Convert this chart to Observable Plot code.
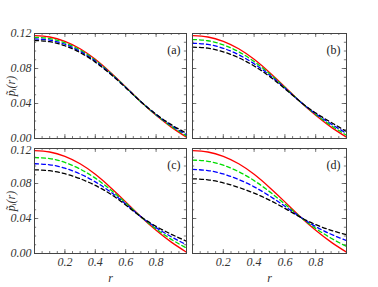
<!DOCTYPE html>
<html><head><meta charset="utf-8">
<script src="https://cdn.jsdelivr.net/npm/d3@7"></script>
<script src="https://cdn.jsdelivr.net/npm/@observablehq/plot@0.6"></script>
<style>
body{margin:0;background:#fff;}
#wrap{position:relative;width:378px;height:287px;}
#wrap svg{position:absolute;}
#wrap svg text{font-family:"Liberation Serif","DejaVu Serif",serif;}
</style></head><body><div id="wrap"></div>
<script>
const rValues = [0,0.1,0.2,0.3,0.4,0.5,0.6,0.7,0.8,0.9,1.0];
const redCurve = [.1175,.1160,.1110,.1025,.0905,.0755,.0590,.0420,.0265,.0130,.0015];
// panel (a)
const greenA = [.1157,.1142,.1093,.1011,.0894,.0749,.0587,.0420,.0269,.0139,.0030];
const blueA  = [.1138,.1124,.1077,.0996,.0884,.0742,.0584,.0420,.0274,.0149,.0045];
const blackA = [.1120,.1106,.1060,.0982,.0873,.0736,.0581,.0420,.0278,.0158,.0060];
// panel (b)
const greenB = [.1131,.1117,.1070,.0991,.0880,.0740,.0583,.0420,.0274,.0148,.0037];
const blueB  = [.1088,.1075,.1031,.0957,.0854,.0725,.0576,.0420,.0283,.0166,.0058];
const blackB = [.1044,.1032,.0991,.0923,.0829,.0710,.0569,.0420,.0292,.0184,.0080];
// panel (c)
const greenC = [.1095,.1085,.1041,.0965,.0861,.0729,.0578,.0420,.0281,.0162,.0062];
const blueC  = [.1026,.1014,.0975,.0909,.0819,.0704,.0566,.0420,.0296,.0191,.0100];
const blackC = [.0956,.0946,.0912,.0855,.0778,.0680,.0555,.0420,.0310,.0220,.0140];
// panel (d)
const greenD = [.1068,.1054,.1009,.0935,.0833,.0707,.0565,.0418,.0287,.0175,.0081];
const blueD  = [.0961,.0948,.0909,.0845,.0762,.0658,.0540,.0417,.0308,.0220,.0148];
const blackD = [.0854,.0842,.0808,.0755,.0690,.0610,.0515,.0415,.0330,.0265,.0214];

const xTickLabels = [0.2,0.4,0.6,0.8];
const xMinorTicks = d3.range(1,20).map(i=>i*0.05);
const yTickLabels = [0,0.04,0.08,0.12];
const yMinorTicks = d3.range(1,12).map(i=>i*0.01);
const seriesNames = ["red","green","blue","black"];
const seriesColors = ["#ff0000","#00dd00","#0000ff","#000000"];
const seriesDash = [null,"4,3","4,3","4,3"];

const panels = [
  {label:"(a)", curves:[redCurve,greenA,blueA,blackA], left:0, top:0, col:0, row:0},
  {label:"(b)", curves:[redCurve,greenB,blueB,blackB], left:190, top:0, col:1, row:0},
  {label:"(c)", curves:[redCurve,greenC,blueC,blackC], left:0, top:145, col:0, row:1},
  {label:"(d)", curves:[redCurve,greenD,blueD,blackD], left:190, top:145, col:1, row:1}
];

const wrap = document.getElementById("wrap");
for (const p of panels) {
  const ml = p.col===0 ? 34 : 2, mr = p.col===0 ? 4 : 32;
  const mt = p.row===0 ? 33 : 3, mb = p.row===0 ? 7 : 34;
  const W = 190 - (p.col===1 ? 2 : 0), H = p.row===0 ? 145 : 142;
  const marks = [];
  p.curves.forEach((vals,k)=>{
    marks.push(Plot.line(rValues.map((r,i)=>({r, v: vals[i]})), {
      x:"r", y:"v", stroke: seriesColors[k], strokeWidth: 1.3,
      strokeDasharray: seriesDash[k], curve: "natural"
    }));
  });
  const gray = "#555";
  marks.push(Plot.ruleX(xMinorTicks, {x:d=>d, y1:0, y2:0.0022, stroke:gray, strokeWidth:0.8}));
  marks.push(Plot.ruleX(xTickLabels, {x:d=>d, y1:0, y2:0.0045, stroke:gray, strokeWidth:0.8}));
  marks.push(Plot.ruleX(xMinorTicks, {x:d=>d, y1:0.12, y2:0.1178, stroke:gray, strokeWidth:0.8}));
  marks.push(Plot.ruleX(xTickLabels, {x:d=>d, y1:0.12, y2:0.1155, stroke:gray, strokeWidth:0.8}));
  marks.push(Plot.ruleY(yMinorTicks, {y:d=>d, x1:0, x2:0.014, stroke:gray, strokeWidth:0.8}));
  marks.push(Plot.ruleY(yTickLabels, {y:d=>d, x1:0, x2:0.028, stroke:gray, strokeWidth:0.8}));
  marks.push(Plot.ruleY(yMinorTicks, {y:d=>d, x1:1, x2:0.986, stroke:gray, strokeWidth:0.8}));
  marks.push(Plot.ruleY(yTickLabels, {y:d=>d, x1:1, x2:0.972, stroke:gray, strokeWidth:0.8}));
  marks.push(Plot.frame({stroke:"#444", strokeWidth:1}));
  marks.push(Plot.text([p.label], {frameAnchor:"top-right", dx:-6, dy:12, fontSize:12, fill:"#222", textAnchor:"end"}));
  if (p.col===0) {
    const topRow = p.row===0;
    const middleTicks = yTickLabels.slice(1, 3);
    const edgeTick = topRow ? [yTickLabels[0]] : [yTickLabels[3]];
    const keptTick = topRow ? [yTickLabels[3]] : [yTickLabels[0]];
    marks.push(Plot.axisY(middleTicks.concat(keptTick), {tickSize:0, tickPadding:3, tickFormat:d3.format(".2f"),
      fontSize:9, fill:"#333", label:"p\u0303\u1D62(r)", labelAnchor:"center", labelOffset:28, labelArrow:"none"}));
    marks.push(Plot.axisY(edgeTick, {tickSize:0, tickPadding:3, tickFormat:d3.format(".2f"),
      fontSize:9, fill:"#333", lineAnchor: topRow ? "bottom" : "top", dy: topRow ? 3 : -3, label:null}));
  }
  if (p.row===1) {
    marks.push(Plot.axisX(xTickLabels, {tickSize:0, tickPadding:4, tickFormat:d3.format(".1f"),
      fontSize:9.5, fill:"#333", label:"r", labelAnchor:"center", labelOffset:28, labelArrow:"none"}));
  }
  const svg = Plot.plot({
    width: W, height: H, marginLeft: ml, marginRight: mr, marginTop: mt, marginBottom: mb,
    x: {domain:[0,1], axis:null},
    y: {domain:[0,0.12], axis:null},
    style: {fontFamily:"'Liberation Serif', serif", fontSize:"10px", background:"transparent", overflow:"visible"},
    marks
  });
  svg.style.left = p.left + "px";
  svg.style.top = p.top + "px";
  svg.querySelectorAll("[aria-label$='axis label'] text, [aria-label$='label'] text").forEach(t=>{
    t.setAttribute("font-style","italic");
    t.setAttribute("font-size","12");
  });
  wrap.appendChild(svg);
}
</script></body></html>
